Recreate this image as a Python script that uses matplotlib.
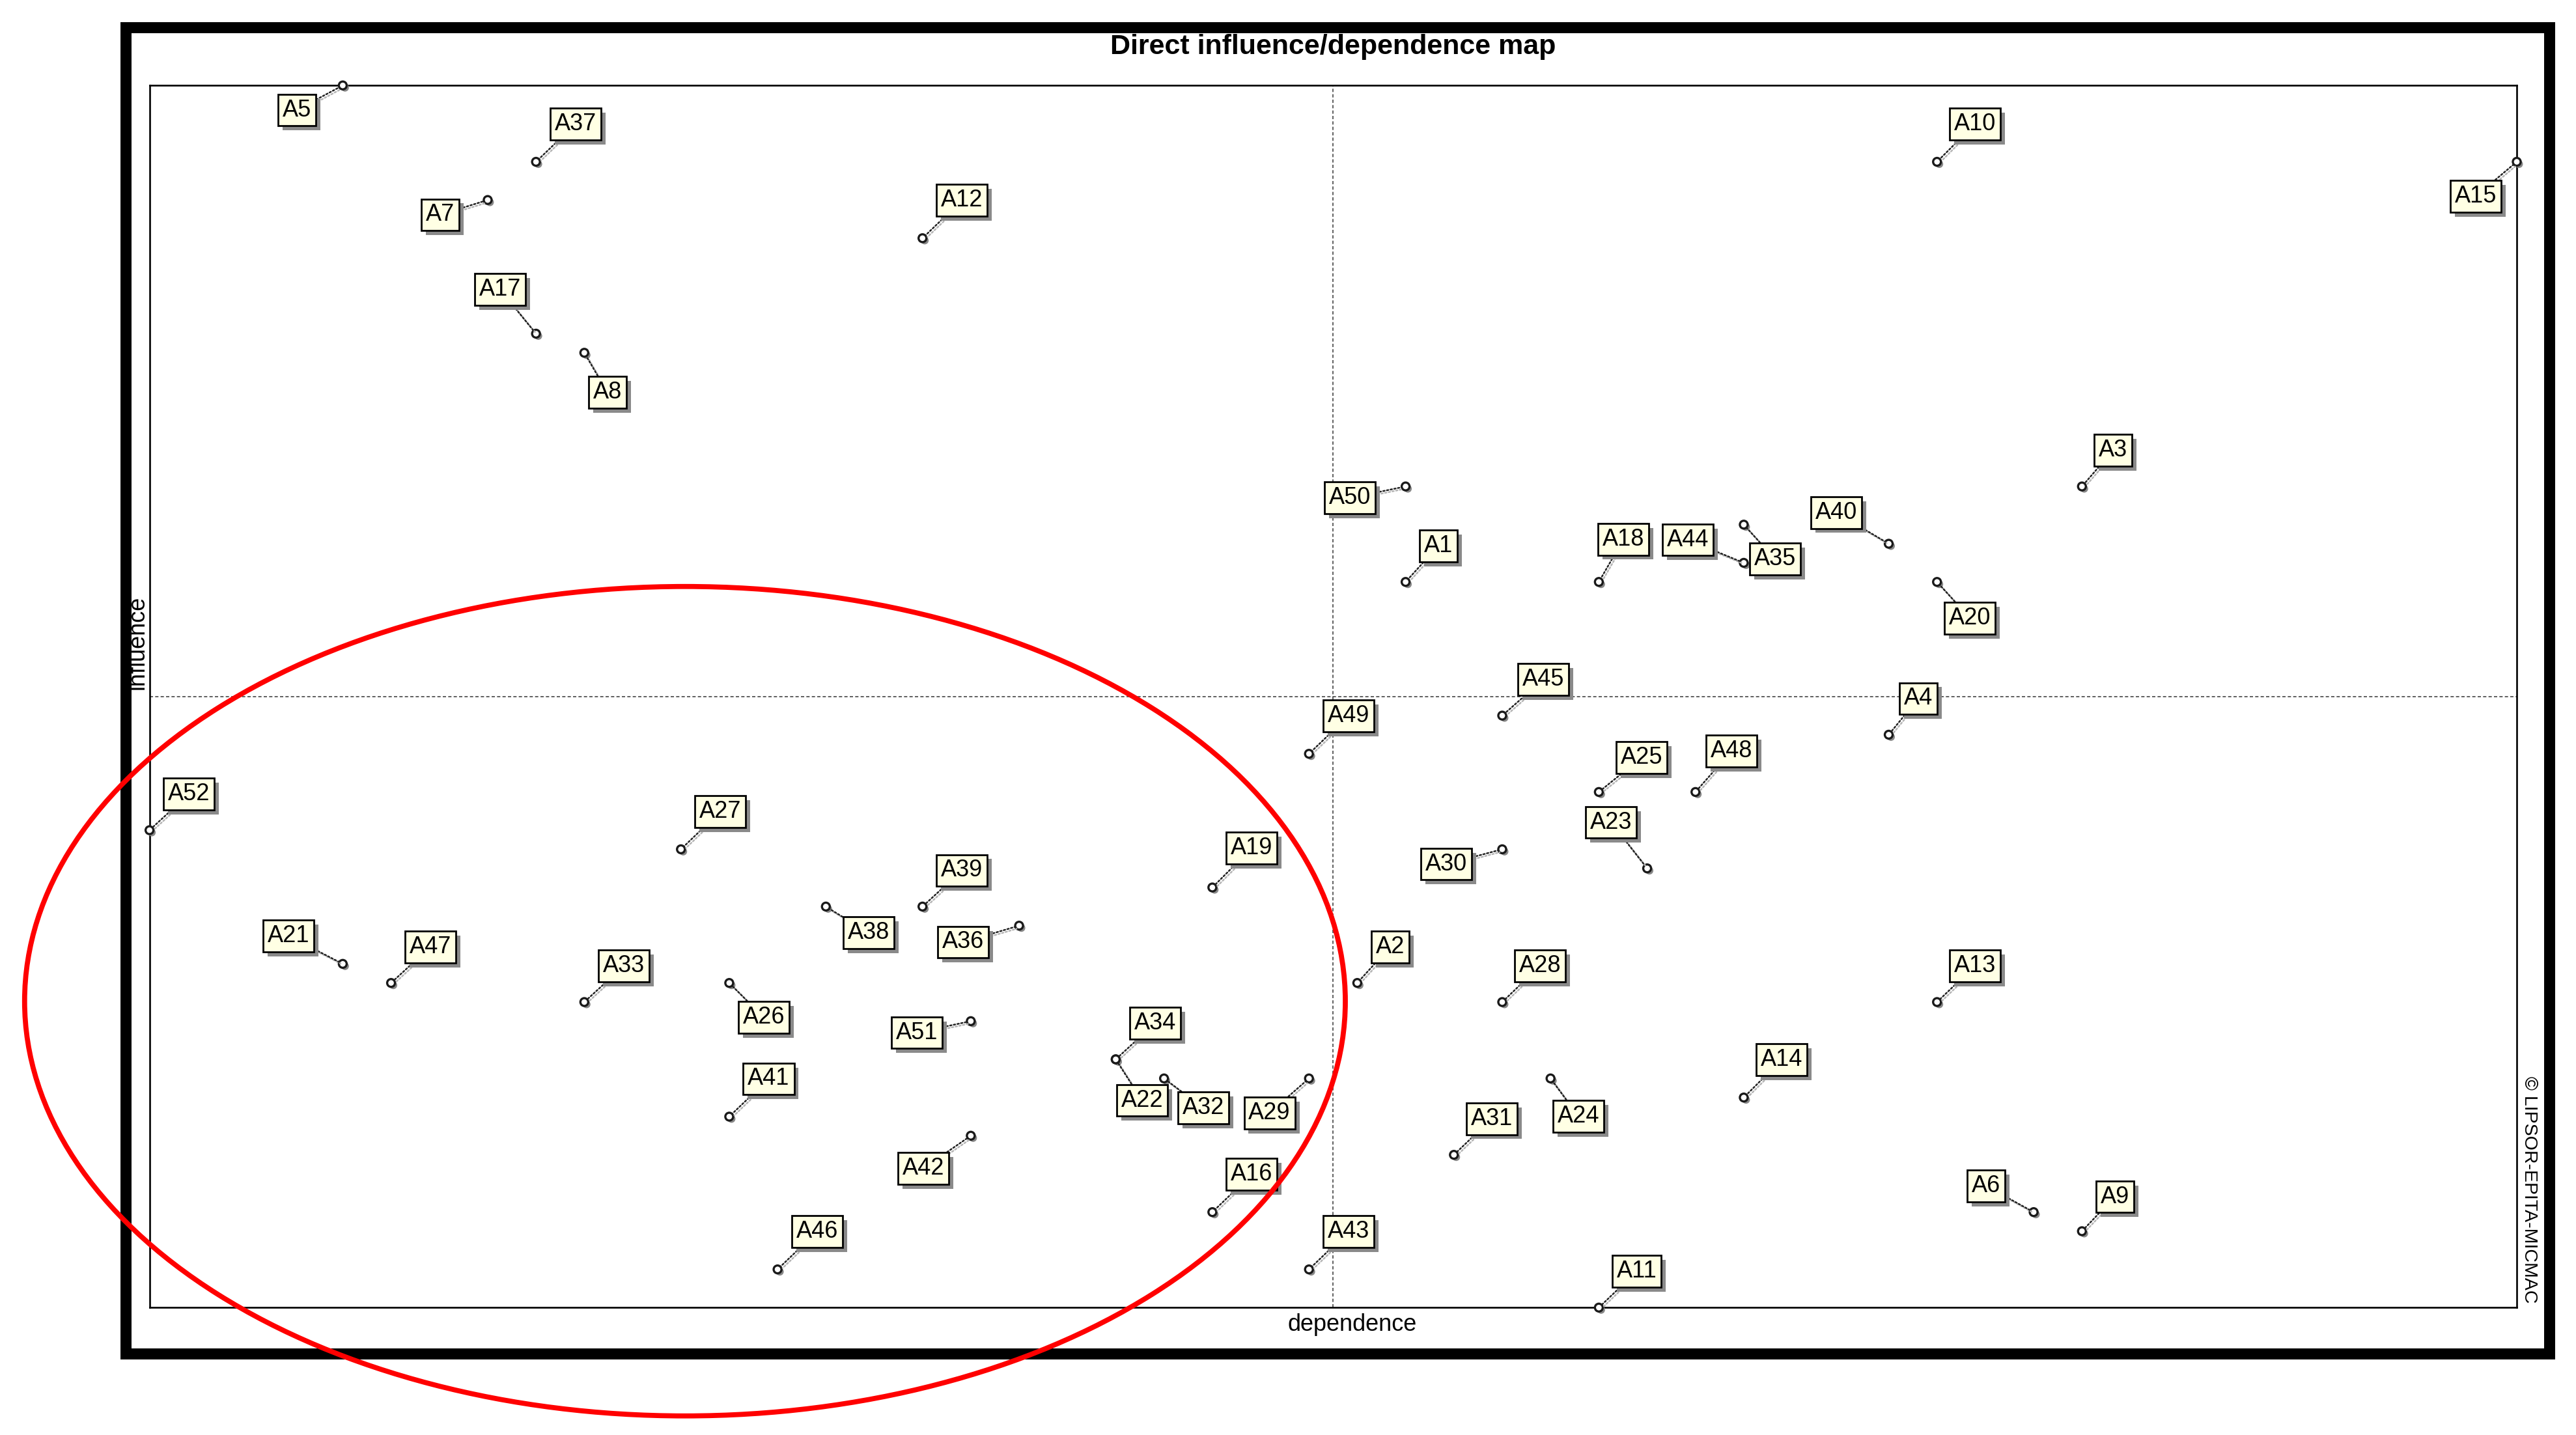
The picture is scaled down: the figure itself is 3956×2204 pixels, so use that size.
import matplotlib.pyplot as plt
import matplotlib.patheffects as pe
from matplotlib.patches import Ellipse, Rectangle
from matplotlib import font_manager

# MICMAC direct influence / dependence map, 52 variables
labels = ['A%d' % i for i in range(1, 53)]

dependence = [26, 25, 40, 36, 4, 39, 7, 9, 40, 37,
              30, 16, 37, 33, 49, 22, 8, 30, 22, 37,
              4, 20, 31, 29, 30, 12, 11, 28, 24, 28,
              27, 21, 9, 20, 33, 18, 8, 14, 16, 36,
              12, 17, 24, 33, 28, 13, 5, 32, 24, 26,
              17, 0]

influence = [38, 17, 43, 30, 64, 5, 58, 50, 4, 60,
             0, 56, 16, 11, 60, 5, 51, 38, 22, 38,
             18, 13, 23, 12, 27, 17, 24, 16, 12, 24,
             8, 12, 16, 13, 41, 20, 60, 21, 21, 40,
             10, 9, 2, 39, 31, 2, 17, 27, 29, 43,
             15, 25]

# where each label box sits relative to its point (reference pixels, y down)
label_offsets = [(20, -22), (20, -22), (19, -22), (18, -22), (-28, 15),
                 (-29, -16), (-29, 9), (14, 24), (20, -21), (23, -23),
                 (23, -22), (24, -23), (23, -22), (23, -23), (-25, 21),
                 (24, -23), (-22, -27), (15, -26), (24, -24), (20, 22),
                 (-33, -17), (16, 25), (-22, -28), (17, 23), (26, -21),
                 (21, 21), (24, -23), (23, -22), (-24, 21), (-34, 9),
                 (23, -22), (24, 18), (24, -22), (24, -22), (19, 21),
                 (-34, 10), (24, -23), (26, 16), (24, -22), (-32, -19),
                 (24, -23), (-29, 20), (24, -23), (-34, -14), (25, -22),
                 (24, -23), (24, -22), (22, -25), (24, -23), (-34, 7),
                 (-33, 7), (24, -22)]

PX = 2.523 * 72 / 100  # reference pixel -> points

names = {f.name for f in font_manager.fontManager.ttflist}
if 'Liberation Sans Narrow' in names:
    title_family, title_size = 'Liberation Sans Narrow', 37
else:
    title_family, title_size = 'Liberation Sans', 31

fig = plt.figure(figsize=(39.56, 22.04), dpi=100)
ax = fig.add_axes([0.05804, 0.08879, 0.91896, 0.85168])
ax.set_xlim(min(dependence), max(dependence))
ax.set_ylim(min(influence), max(influence))
ax.set_xticks([])
ax.set_yticks([])
for s in ax.spines.values():
    s.set_linewidth(1.9)

xm = (min(dependence) + max(dependence)) / 2
ym = (min(influence) + max(influence)) / 2
ax.axvline(xm, color='#444444', lw=1.2, ls=(0, (3, 2)), zorder=1)
ax.axhline(ym, color='#444444', lw=1.2, ls=(0, (3, 2)), zorder=1)

ax.scatter(dependence, influence, s=75, facecolor='white', edgecolor='#1a1a1a',
           linewidth=2.4, zorder=4, clip_on=False,
           path_effects=[pe.SimplePatchShadow(offset=(2.5, -2.5), shadow_rgbFace='#888888', alpha=1),
                         pe.Normal()])

for name, x, y, (dx, dy) in zip(labels, dependence, influence, label_offsets):
    t = ax.annotate(name, (x, y), xytext=(dx * PX, -dy * PX), textcoords='offset points',
                    ha='center', va='center', fontsize=26, family='Liberation Sans',
                    zorder=5, annotation_clip=False,
                    bbox=dict(boxstyle='square,pad=0.19', fc='#FFFFE4', ec='black', lw=2.0),
                    arrowprops=dict(arrowstyle='-', color='#222222', lw=1.8,
                                    linestyle=(0, (1, 1.3)), shrinkA=0, shrinkB=5,
                                    path_effects=[pe.SimpleLineShadow(offset=(2, -2),
                                                                      shadow_color='#b5b5b5', alpha=1),
                                                  pe.Normal()]))
    t.get_bbox_patch().set_path_effects(
        [pe.SimplePatchShadow(offset=(5, -5), shadow_rgbFace='#8a8a8a', alpha=1), pe.Normal()])

fig.text(0.51752, 0.9622, 'Direct influence/dependence map', ha='center', va='baseline',
         fontsize=title_size, fontweight='bold', family=title_family)
fig.text(0.525, 0.0726, 'dependence', ha='center', va='baseline', fontsize=26,
         family='Liberation Sans')
fig.text(0.0533, 0.5522, 'influence', rotation=90, ha='center', va='center', fontsize=26,
         family='Liberation Sans')
fig.text(0.9818, 0.1711, '\u00a9 LIPSOR-EPITA-MICMAC', rotation=-90, ha='center', va='center',
         fontsize=20.5, family='Liberation Sans')

# thick outer frame and the hand-drawn red ellipse
fig.add_artist(Rectangle((0.04891, 0.05694), 0.94073, 0.92423, transform=fig.transFigure,
                         fill=False, lw=12.2, ec='black', joinstyle='miter', zorder=8))
fig.add_artist(Ellipse((0.2659, 0.3023), 0.5127, 0.5780, transform=fig.transFigure,
                       fill=False, lw=5.6, ec='#FF0000', zorder=10))

fig.savefig('out.png', dpi=100)
